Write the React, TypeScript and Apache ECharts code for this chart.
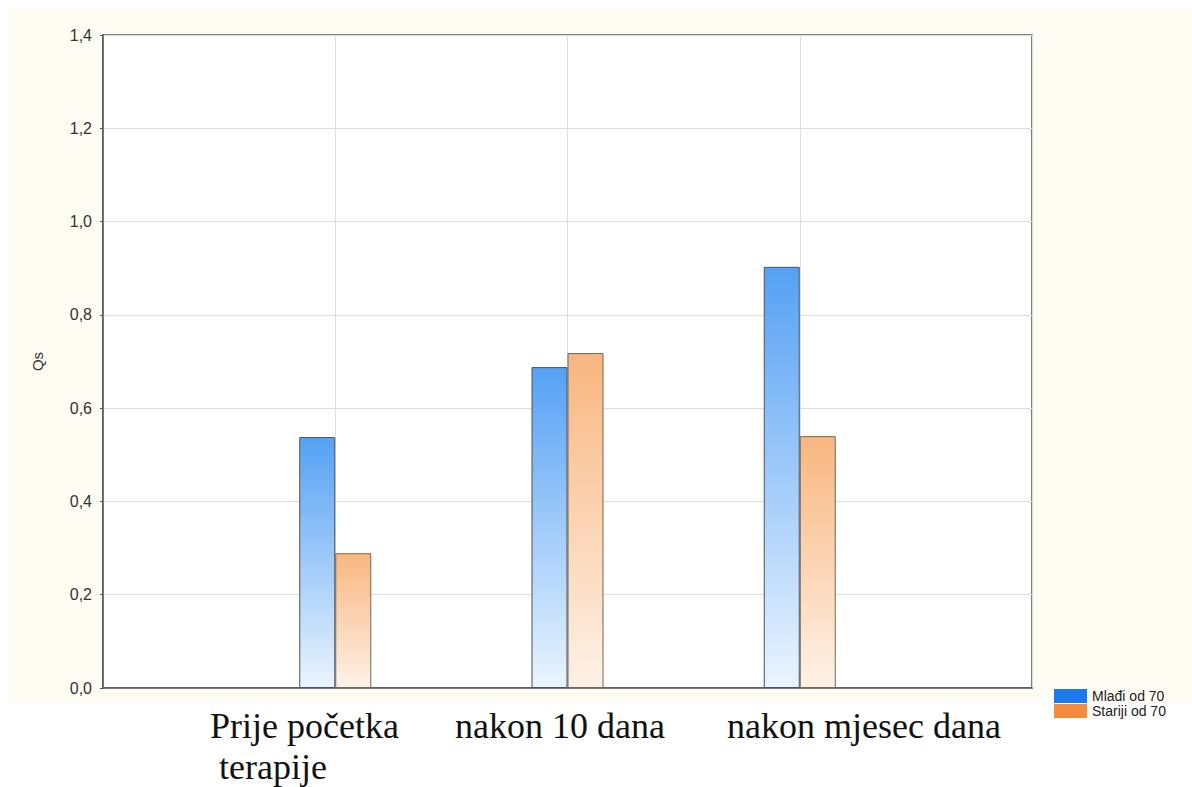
import React, { useEffect, useRef } from "react";
import * as echarts from "echarts";

const categories = ["Prije početka\n terapije", "nakon 10 dana", "nakon mjesec dana"];
const seriesNames = ["Mlađi od 70", "Stariji od 70"];
const youngerValues = [0.538, 0.688, 0.903];
const olderValues = [0.289, 0.718, 0.54];
const yTicks = [0, 0.2, 0.4, 0.6, 0.8, 1.0, 1.2, 1.4];
const labelLefts = [210, 455, 727];

export default function App() {
  const ref = useRef<HTMLDivElement>(null);
  useEffect(() => {
    const chart = echarts.init(ref.current!, null, { renderer: "svg" });
    const xData = ["", ...categories, ""];
    const pad = (arr: number[]) => ["-", ...arr, "-"];
    const blueGrad = new echarts.graphic.LinearGradient(0, 0, 0, 1, [
      { offset: 0, color: "#55a1f4" },
      { offset: 1, color: "#eaf4fe" },
    ]);
    const orangeGrad = new echarts.graphic.LinearGradient(0, 0, 0, 1, [
      { offset: 0, color: "#f9b67f" },
      { offset: 1, color: "#fdf2e7" },
    ]);
    const sans = "Arial, 'Liberation Sans', sans-serif";
    chart.setOption({
      animation: false,
      backgroundColor: "#ffffff",
      graphic: [
        {
          type: "rect",
          z: -10,
          silent: true,
          shape: { x: 10, y: 10, width: 1182, height: 692 },
          style: { fill: "#fffcf3" },
        },
        ...categories.map((c, i) => ({
          type: "text",
          left: labelLefts[i],
          top: 705,
          style: {
            text: c,
            font: "36px 'Liberation Serif', 'Times New Roman', serif",
            fill: "#111111",
            lineHeight: 41,
          },
        })),
      ],
      grid: {
        left: 103,
        right: 160,
        top: 35,
        bottom: 99,
        show: true,
        backgroundColor: "#ffffff",
        borderColor: "#555555",
        borderWidth: 1.5,
      },
      legend: {
        orient: "vertical",
        left: 1049,
        top: 684,
        itemWidth: 33,
        itemHeight: 14,
        itemGap: 1,
        icon: "rect",
        textStyle: { fontFamily: sans, fontSize: 14, color: "#222" },
        data: [
          { name: seriesNames[0], itemStyle: { color: "#1a78f0", borderWidth: 0 } },
          { name: seriesNames[1], itemStyle: { color: "#f5893c", borderWidth: 0 } },
        ],
      },
      xAxis: {
        type: "category",
        boundaryGap: false,
        data: xData,
        axisLine: { show: true, lineStyle: { color: "#555555", width: 1.5 } },
        axisTick: { show: false },
        axisLabel: { show: false },
        splitLine: { show: true, lineStyle: { color: "#dddddd", width: 1 } },
      },
      yAxis: {
        type: "value",
        min: 0,
        max: 1.4,
        interval: 0.2,
        name: "Qs",
        nameLocation: "middle",
        nameGap: 58,
        nameTextStyle: { fontFamily: sans, fontSize: 15, color: "#333" },
        axisLine: { show: true, lineStyle: { color: "#555555", width: 1.5 } },
        axisTick: { show: true, length: 3, lineStyle: { color: "#555" } },
        axisLabel: {
          fontFamily: sans,
          fontSize: 16,
          color: "#333",
          margin: 11,
          formatter: (v: number) => {
            const t = yTicks.find((y) => Math.abs(y - v) < 1e-6);
            return (t !== undefined ? t : v).toFixed(1).replace(".", ",");
          },
        },
        splitLine: { show: true, lineStyle: { color: "#dddddd", width: 1 } },
      },
      series: [
        {
          name: seriesNames[0],
          type: "bar",
          data: pad(youngerValues),
          barWidth: 36,
          barGap: "0%",
          itemStyle: { color: blueGrad, borderColor: "#445566", borderWidth: 1 },
        },
        {
          name: seriesNames[1],
          type: "bar",
          data: pad(olderValues),
          barWidth: 36,
          barGap: "0%",
          itemStyle: { color: orangeGrad, borderColor: "#776655", borderWidth: 1 },
        },
      ],
    });
    return () => chart.dispose();
  }, []);
  return (
    <div
      ref={ref}
      style={{ position: "fixed", left: 0, top: 0, width: 1192, height: 787 }}
    />
  );
}
